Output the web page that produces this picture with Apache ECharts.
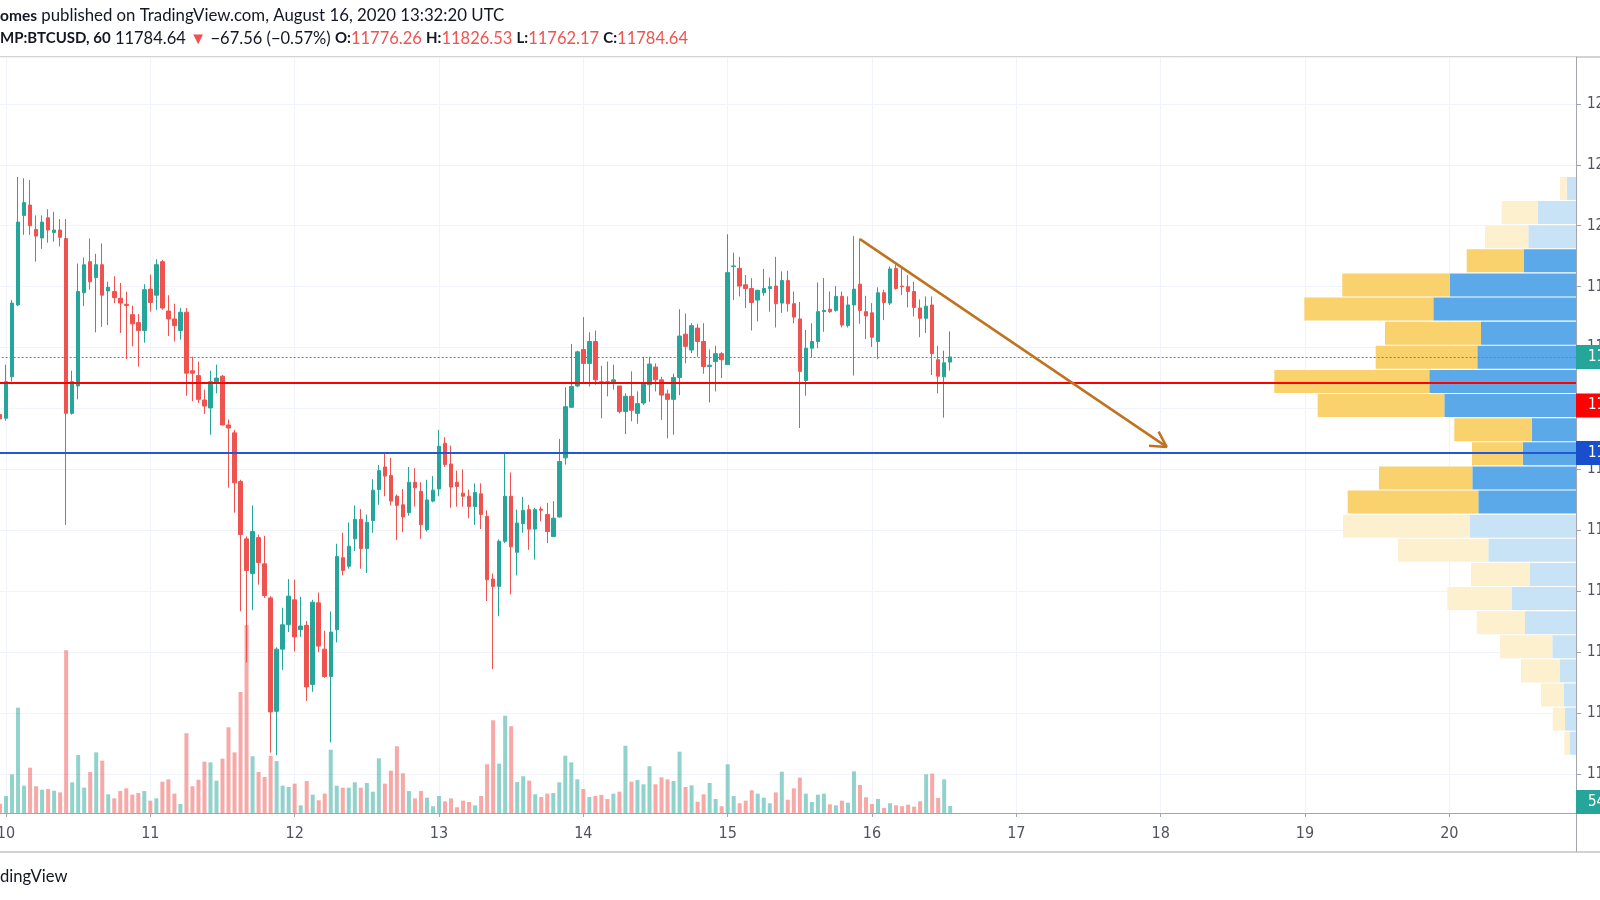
<!DOCTYPE html>
<html><head><meta charset="utf-8">
<script src="https://cdn.jsdelivr.net/npm/echarts@6/dist/echarts.min.js"></script>
<style>html,body{margin:0;padding:0;background:#fff}#c{width:1600px;height:900px}</style>
</head><body><div id="c"></div>
<script>
// hourly candles, first bar = Aug 9 23:00 UTC (hour -1 relative to Aug 10 00:00)
const firstHour = -1;
const open = [
11690,11684,11752,11870,12017,12034,11994,11980,12013,11989,
11993,11979,11692,11737,11890,11941,11915,11936,11893,11892,
11881,11871,11854,11841,11828,11896,11886,11941,11860,11847,
11828,11858,11762,11754,11714,11701,11744,11753,11673,11660,
11580,11486,11429,11488,11445,11389,11203,11305,11345,11386,
11337,11344,11247,11381,11305,11260,11337,11455,11441,11486,
11518,11470,11516,11567,11604,11590,11556,11542,11529,11579,
11564,11501,11548,11568,11643,11609,11579,11561,11556,11539,
11560,11523,11420,11408,11482,11556,11464,11511,11534,11502,
11535,11526,11490,11522,11619,11702,11737,11797,11774,11810,
11744,11744,11742,11737,11695,11720,11692,11709,11739,11768,
11747,11724,11715,11751,11822,11796,11832,11810,11769,11777,
11790,11772,11933,11930,11903,11897,11878,11890,11897,11901,
11873,11910,11872,11847,11746,11799,11810,11859,11863,11861,
11884,11836,11870,11904,11859,11857,11810,11890,11873,11930,
11901,11900,11892,11865,11848,11870,11780,11752,11776.26];
const close = [
11683,11744,11873,12006,12038,12000,11983,12006,11993,11993,
11981,11692,11744,11892,11936,11908,11936,11886,11899,11882,
11873,11869,11839,11828,11895,11874,11936,11865,11847,11836,
11858,11758,11758,11715,11704,11744,11750,11673,11668,11578,
11493,11434,11498,11447,11393,11202,11305,11345,11392,11325,
11343,11243,11382,11310,11260,11333,11457,11434,11474,11518,
11470,11513,11566,11598,11589,11548,11541,11522,11579,11570,
11509,11550,11566,11638,11608,11571,11572,11556,11539,11562,
11526,11419,11408,11482,11556,11473,11512,11533,11502,11534,
11533,11498,11520,11613,11703,11736,11793,11774,11810,11747,
11742,11742,11747,11695,11720,11697,11708,11742,11773,11747,
11722,11715,11751,11819,11802,11836,11810,11769,11771,11790,
11780,11923,11934,11901,11897,11874,11894,11897,11900,11872,
11910,11872,11850,11761,11799,11810,11859,11861,11859,11884,
11837,11870,11896,11861,11852,11817,11890,11874,11929,11897,
11900,11892,11866,11848,11868,11790,11753,11775,11784.64];
const low = [
11654,11680,11744,11868,11985,11985,11941,11962,11972,11974,
11966,11509,11690,11715,11868,11895,11825,11834,11837,11873,
11824,11781,11802,11769,11808,11859,11862,11862,11819,11810,
11813,11721,11712,11709,11691,11657,11725,11672,11570,11529,
11367,11283,11369,11411,11389,11135,11131,11271,11333,11301,
11325,11220,11235,11300,11258,11152,11316,11426,11437,11466,
11437,11430,11496,11542,11556,11541,11484,11497,11524,11539,
11486,11498,11546,11556,11604,11537,11539,11539,11520,11509,
11502,11384,11272,11359,11479,11395,11426,11496,11468,11452,
11515,11479,11489,11521,11608,11701,11735,11743,11736,11739,
11684,11720,11731,11692,11658,11679,11675,11706,11711,11728,
11681,11651,11657,11722,11774,11791,11785,11757,11710,11728,
11750,11772,11878,11884,11865,11828,11843,11885,11859,11833,
11857,11859,11840,11668,11721,11784,11799,11826,11857,11859,
11833,11833,11754,11839,11814,11801,11781,11845,11870,11895,
11886,11866,11851,11817,11824,11755,11725,11685,11762.17];
const high = [
11701,11772,11878,12080,12078,12075,12017,12017,12027,12023,
12011,12011,11762,11938,11948,11979,11954,11971,11908,11917,
11906,11892,11869,11855,11904,11920,11945,11944,11886,11872,
11865,11865,11785,11777,11731,11762,11772,11755,11682,11665,
11583,11490,11541,11493,11491,11392,11308,11373,11420,11419,
11391,11351,11386,11398,11335,11367,11478,11496,11513,11541,
11535,11526,11584,11607,11626,11619,11559,11568,11604,11602,
11579,11583,11589,11665,11653,11639,11598,11600,11567,11577,
11577,11533,11429,11485,11627,11595,11534,11555,11542,11537,
11539,11545,11548,11650,11735,11806,11795,11850,11825,11828,
11770,11777,11772,11737,11725,11761,11728,11785,11785,11774,
11752,11731,11757,11863,11856,11840,11839,11840,11797,11803,
11793,11986,11956,11949,11919,11914,11895,11929,11915,11949,
11925,11926,11892,11875,11829,11840,11907,11914,11892,11901,
11892,11884,11983,11979,11885,11873,11899,11895,11933,11936,
11932,11919,11908,11879,11884,11884,11803,11795,11826.53];
const volume = [
72,131,298,811,210,349,206,179,185,172,
159,1253,236,447,195,316,467,403,144,113,
169,190,141,154,169,95,113,241,259,149,
69,614,206,256,395,390,249,418,660,467,
932,1448,437,316,277,439,400,210,200,226,
59,246,141,98,149,487,210,195,195,236,
195,231,164,421,226,326,514,306,169,113,
169,118,52,131,90,113,44,95,85,59,
131,375,714,380,749,668,239,283,249,144,
123,149,154,236,441,390,259,185,123,131,
139,108,149,164,518,241,254,221,360,221,
275,259,246,472,200,213,87,144,231,108,
52,375,131,75,95,175,149,118,75,159,
318,102,190,272,149,85,141,149,67,59,
95,79,321,216,121,69,108,39,75,59,
52,64,49,90,298,303,116,259,54];

// day tick labels (Aug 10 .. Aug 20)
const dayLabels = ['10','11','12','13','14','15','16','17','18','19','20'];

// visible-range volume profile, rows top (high) to bottom (low)
const vpRows = ['r1','r2','r3','r4','r5','r6','r7','r8','r9','r10','r11','r12','r13','r14','r15','r16','r17','r18','r19','r20','r21','r22','r23','r24'];
const vpUp = [93,383,477,520,1260,1427,950,987,1467,1317,443,533,1037,977,1060,877,460,643,510,237,160,120,110,60];
const vpDown = [67,360,433,573,1077,1290,960,1016,1550,1266,774,507,933,1306,1270,903,590,644,483,523,390,230,123,57];
const valueAreaFirst = 3, valueAreaLast = 13;

// levels and drawing
const lastPrice = 11784.64;
const redLevel = 11742;
const redLabelAt = 11705;
const blueLevel = 11627;
const volLabelAt = 11054;
const lastVolumeText = '54';
const trend = [[142, 11978], [193, 11637]];
const arrowHead = [[191.65, 11662], [193, 11637], [190.06, 11639]];

const UP = '#26a69a', DOWN = '#ef5350';
const AXF = "'Liberation Sans Narrow','DejaVu Sans Condensed','Liberation Sans',sans-serif";
const HF = "Lato,'Liberation Sans',sans-serif";

const candles = open.map((o, i) => [firstHour + i, o, close[i], low[i], high[i]]);
const vols = volume.map((v, i) => ({
  value: [firstHour + i, v],
  itemStyle: { color: close[i] >= open[i] ? 'rgba(38,166,154,0.5)' : 'rgba(239,83,80,0.5)' }
}));
const inVA = i => i >= valueAreaFirst && i <= valueAreaLast;
const vpUpData = vpUp.map((v, i) => ({ value: v, itemStyle: { color: inVA(i) ? '#5ba9e9' : '#c9e3f6' } }));
const vpDownData = vpDown.map((v, i) => ({ value: v, itemStyle: { color: inVA(i) ? '#f9d26e' : '#fdf0cf' } }));

const boxLabel = (bg, text) => ({
  show: true, position: 'end', distance: 0, formatter: text,
  color: '#fff', backgroundColor: bg, padding: [5, 10, 5, 12],
  fontSize: 15, fontFamily: AXF, lineHeight: 14
});

const chart = echarts.init(document.getElementById('c'), null, { renderer: 'canvas' });
chart.setOption({
  animation: false,
  backgroundColor: '#fff',
  title: [
    { left: 0, top: 7, padding: 0,
      text: '{b|omes} published on TradingView.com, August 16, 2020 13:32:20 UTC',
      textStyle: { fontFamily: HF, fontSize: 16.8, fontWeight: 'normal', color: '#131722',
        rich: { b: { fontFamily: HF, fontSize: 15.5, fontWeight: 'bold', color: '#131722' } } } },
    { left: 0, top: 30, padding: 0,
      text: '{b|MP:BTCUSD, 60} 11784.64 {r|▼} −67.56 (−0.57%) {b|O:}{r|11776.26} {b|H:}{r|11826.53} {b|L:}{r|11762.17} {b|C:}{r|11784.64}',
      textStyle: { fontFamily: HF, fontSize: 16.5, fontWeight: 'normal', color: '#131722',
        rich: { b: { fontFamily: HF, fontSize: 15, fontWeight: 'bold', color: '#131722' },
                r: { fontFamily: HF, fontSize: 16.5, color: '#ef5350' } } } },
    { left: 0, top: 868, padding: 0, text: 'dingView',
      textStyle: { fontFamily: HF, fontSize: 16.6, fontWeight: 'normal', color: '#131722' } }
  ],
  grid: [
    { left: -138.333, right: 24, top: 57, bottom: 87, outerBoundsMode: 'none', containLabel: false },
    { left: 1176, right: 24, top: 176.4, bottom: 144.7, outerBoundsMode: 'none', containLabel: false }
  ],
  xAxis: [
    { type: 'value', gridIndex: 0, min: -24, max: 261.06, interval: 24,
      axisLine: { show: true, onZero: false, lineStyle: { color: '#a3a6af' } },
      axisTick: { show: true, length: 4, lineStyle: { color: '#a3a6af' } },
      axisLabel: { margin: 13, color: '#50535e', fontSize: 16, fontFamily: AXF,
        formatter: v => { const k = Math.round(v / 24); return (v >= 0 && Math.abs(v - 24 * k) < 1e-6 && k < dayLabels.length) ? dayLabels[k] : ''; } },
      splitLine: { show: true, lineStyle: { color: '#f0f3fa' } } },
    { type: 'value', gridIndex: 1, min: 0, max: 4000, inverse: true, show: false,
      axisLine: { show: false, onZero: false }, splitLine: { show: false } }
  ],
  yAxis: [
    { type: 'value', gridIndex: 0, position: 'right', min: 11036, max: 12277, splitNumber: 12,
      axisLine: { show: true, onZero: false, lineStyle: { color: '#a3a6af' } },
      axisTick: { show: true, length: 5, lineStyle: { color: '#a3a6af' } },
      axisLabel: { margin: 11, color: '#50535e', fontSize: 15, fontFamily: AXF,
        showMinLabel: false, showMaxLabel: false,
        formatter: v => (Math.abs(v % 100) < 1e-6 ? String(v) : '') },
      splitLine: { show: true, lineStyle: { color: '#f0f3fa' } } },
    { type: 'value', gridIndex: 0, position: 'right', min: 0, max: 5821, show: false,
      axisLine: { show: false, onZero: false }, axisTick: { show: false }, axisLabel: { show: false },
      splitLine: { show: false } },
    { type: 'category', gridIndex: 1, data: vpRows, inverse: true, show: false,
      axisLine: { show: false, onZero: false } }
  ],
  series: [
    { type: 'bar', name: 'vpUp', xAxisIndex: 1, yAxisIndex: 2, stack: 'vp', barWidth: 23,
      data: vpUpData, z: 1, silent: true },
    { type: 'bar', name: 'vpDown', xAxisIndex: 1, yAxisIndex: 2, stack: 'vp', barWidth: 23,
      data: vpDownData, z: 1, silent: true },
    { type: 'bar', name: 'volume', xAxisIndex: 0, yAxisIndex: 1, barWidth: 4, data: vols, z: 2, silent: true },
    { type: 'candlestick', name: 'BTCUSD', xAxisIndex: 0, yAxisIndex: 0, data: candles, barWidth: 4, z: 3,
      itemStyle: { color: UP, color0: DOWN, borderColor: UP, borderColor0: DOWN, borderWidth: 1 },
      markLine: {
        symbol: ['none', 'none'], silent: true, animation: false,
        data: [
          { yAxis: redLevel, lineStyle: { color: '#ff0000', width: 2, type: 'solid' }, label: { show: false } },
          { yAxis: blueLevel, lineStyle: { color: '#2158d6', width: 2, type: 'solid' }, label: boxLabel('#1a4fcc', blueLevel.toFixed(2)) },
          { yAxis: lastPrice, lineStyle: { color: UP, width: 1, type: [2, 2] }, label: boxLabel(UP, lastPrice.toFixed(2)) },
          { yAxis: redLabelAt, lineStyle: { color: 'rgba(0,0,0,0)', width: 0 }, label: boxLabel('#ff0000', redLevel.toFixed(2)) },
          { yAxis: volLabelAt, lineStyle: { color: 'rgba(0,0,0,0)', width: 0 }, label: boxLabel(UP, lastVolumeText) }
        ]
      } },
    { type: 'line', name: 'trend', xAxisIndex: 0, yAxisIndex: 0, data: trend, symbol: 'none', z: 5,
      lineStyle: { color: '#c0731f', width: 2.5 }, silent: true },
    { type: 'line', name: 'arrow', xAxisIndex: 0, yAxisIndex: 0, data: arrowHead, symbol: 'none', z: 5,
      lineStyle: { color: '#c0731f', width: 2.5 }, silent: true }
  ],
  graphic: [
    { type: 'line', shape: { x1: 0, y1: 57, x2: 1600, y2: 57 }, style: { stroke: '#a3a6af', lineWidth: 1 }, silent: true },
    { type: 'line', shape: { x1: 0, y1: 852, x2: 1600, y2: 852 }, style: { stroke: '#a3a6af', lineWidth: 1 }, silent: true },
    { type: 'line', shape: { x1: 1576.5, y1: 813, x2: 1576.5, y2: 852 }, style: { stroke: '#a3a6af', lineWidth: 1 }, silent: true },
    { type: 'line', shape: { x1: 1576, y1: 813.5, x2: 1600, y2: 813.5 }, style: { stroke: '#a3a6af', lineWidth: 1 }, silent: true }
  ]
});
</script>
</body></html>
